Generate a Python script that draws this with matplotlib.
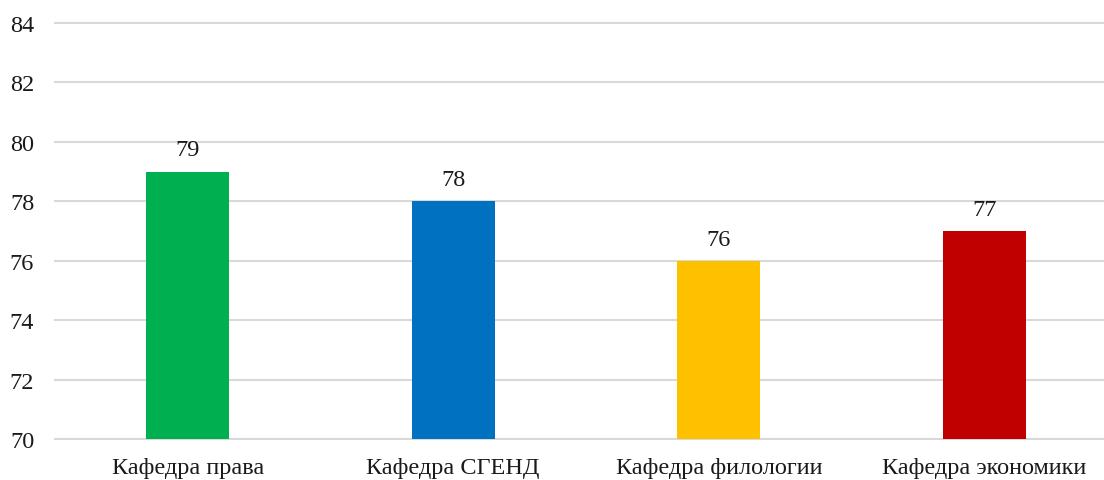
import matplotlib
matplotlib.use('Agg')
import matplotlib.pyplot as plt

# Data
departments = ['Кафедра права', 'Кафедра СГЕНД', 'Кафедра филологии', 'Кафедра экономики']
scores = [79, 78, 76, 77]
colors = ['#00B050', '#0070C0', '#FFC000', '#C00000']

plt.rcParams['font.family'] = ['Liberation Serif', 'DejaVu Serif']

W, H = 1104, 481
fig = plt.figure(figsize=(W / 100, H / 100), dpi=100)
# plot area runs past the right edge, like the cropped original
ax = fig.add_axes([55 / W, 41 / H, 1062 / W, 416 / H])

x = range(len(departments))
ax.bar(x, [s - 70 for s in scores], bottom=70, width=0.3125, color=colors, zorder=3)

for xi, s in zip(x, scores):
    ax.annotate(str(s), (xi, s), xytext=(0, 8), textcoords='offset points',
                ha='center', va='bottom', fontsize=17.5, color='#1a1a1a')

ax.set_xlim(-0.5, len(departments) - 0.5)
ax.set_ylim(70, 84)
ax.set_yticks(range(70, 85, 2))
ax.set_xticks(list(x))
ax.set_xticklabels(departments)

ax.grid(axis='y', color='#d9d9d9', linewidth=1.5, zorder=0)
for gl in ax.get_ygridlines():
    gl.set_clip_on(False)
ax.set_axisbelow(True)
for sp in ax.spines.values():
    sp.set_visible(False)
ax.tick_params(axis='both', length=0, labelsize=17.5, colors='#1a1a1a')
ax.tick_params(axis='y', pad=15)
ax.tick_params(axis='x', pad=13)

fig.savefig('out.png', dpi=100)
